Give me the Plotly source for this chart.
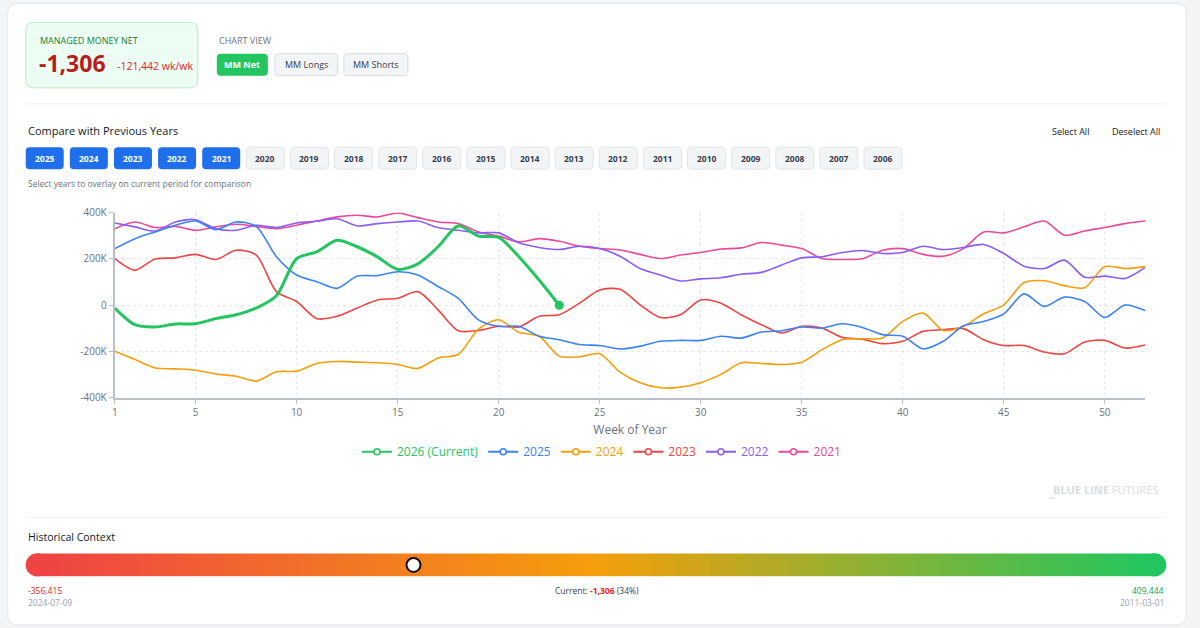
import plotly.graph_objects as go

W, H = 1200, 628
FONT = "Open Sans"

# ---- data (values in thousands of contracts) ----
weeks = list(range(1, 53))
current_weeks = list(range(1, 24))

net_2026 = [-13, -85, -95, -82, -81, -59, -42, -13, 40, 201, 230, 280, 252, 208, 154, 178,
            252, 342, 298, 292, 209, 108, -1.306]
net_2025 = [244, 287, 316, 345, 363, 326, 359, 340, 209, 130, 101, 72, 125, 127, 144, 130,
            80, 29, -64, -92, -92, -135, -150, -171, -175, -190, -178, -157, -153, -153, -135,
            -143, -117, -111, -95, -100, -81, -97, -128, -135, -190, -157, -90, -71, -38, 48,
            -6, 34, 15, -54, 0, -24]
net_2024 = [-200, -236, -272, -276, -282, -298, -308, -329, -289, -286, -253, -244, -247, -250,
            -257, -274, -229, -214, -104, -64, -118, -135, -221, -224, -211, -290, -336, -358,
            -355, -336, -300, -250, -253, -257, -247, -193, -150, -146, -143, -71, -35, -110,
            -92, -38, 1, 97, 105, 84, 75, 166, 158, 166]
net_2023 = [201, 151, 199, 204, 219, 197, 237, 216, 58, 15, -59, -49, -13, 22, 29, 58, -21,
            -111, -110, -92, -95, -49, -42, 8, 65, 68, 1, -54, -42, 22, 8, -42, -85, -121, -92,
            -100, -140, -148, -167, -157, -114, -107, -102, -150, -175, -175, -203, -211, -160,
            -153, -186, -173]
net_2022 = [355, 338, 320, 359, 369, 330, 323, 345, 335, 355, 362, 373, 342, 352, 359, 363,
            335, 323, 312, 312, 269, 249, 240, 254, 244, 211, 158, 130, 104, 113, 118, 133, 141,
            173, 204, 209, 227, 236, 223, 227, 254, 240, 249, 262, 223, 168, 158, 194, 120, 125,
            115, 163]
net_2021 = [330, 359, 335, 340, 323, 338, 349, 340, 330, 345, 363, 381, 388, 381, 398, 378,
            359, 352, 316, 298, 273, 287, 276, 254, 244, 238, 219, 201, 216, 227, 242, 247, 270,
            259, 244, 201, 197, 200, 237, 244, 219, 211, 244, 316, 312, 338, 363, 302, 320, 335,
            352, 363]

series_names = ["2026 (Current)", "2025", "2024", "2023", "2022", "2021"]
series_colors = ["#22c55e", "#3b82f6", "#f59e0b", "#ef4444", "#8b5cf6", "#ec4899"]

y_ticks = [-400, -200, 0, 200, 400]
y_tick_text = ["-400K", "-200K", "0", "200K", "400K"]
x_ticks = [1, 5, 10, 15, 20, 25, 30, 35, 40, 45, 50]

compare_years = list(range(2025, 2005, -1))
selected_years = [2025, 2024, 2023, 2022, 2021]
view_buttons = ["MM Net", "MM Longs", "MM Shorts"]

mm_net = "-1,306"
mm_change = "-121,442 wk/wk"
hist_min, hist_min_date = "-356,415", "2024-07-09"
hist_max, hist_max_date = "409,444", "2011-03-01"
current_pct = 34

# the snapshot of the window shows the page slightly inset (about 3px left, 9px top,
# ~2.5% shorter); pixel positions measured on the reference are mapped through this
SHIFT_X, SCALE_X = 3.3, 0.997
SHIFT_Y, SCALE_Y = 8.6, 0.974


def px(x):
    return (x - SHIFT_X) / SCALE_X / W


def py(y):
    return 1 - (y - SHIFT_Y) / SCALE_Y / H


def box(x0, y0, x1, y1, r, fill, line=None):
    """Rounded rectangle given in pixel coords, returned as a paper-ref path shape."""
    path = (f"M{px(x0 + r)},{py(y0)} L{px(x1 - r)},{py(y0)} Q{px(x1)},{py(y0)} {px(x1)},{py(y0 + r)} "
            f"L{px(x1)},{py(y1 - r)} Q{px(x1)},{py(y1)} {px(x1 - r)},{py(y1)} "
            f"L{px(x0 + r)},{py(y1)} Q{px(x0)},{py(y1)} {px(x0)},{py(y1 - r)} "
            f"L{px(x0)},{py(y0 + r)} Q{px(x0)},{py(y0)} {px(x0 + r)},{py(y0)} Z")
    return dict(type="path", xref="paper", yref="paper", path=path, fillcolor=fill,
                line=dict(color=line or fill, width=1 if line else 0), layer="below")


def label(x, y, text, size=10, color="#111827", anchor="left", **kw):
    return dict(x=px(x), y=py(y), xref="paper", yref="paper", text=text, showarrow=False,
                xanchor=anchor, yanchor="middle", font=dict(family=FONT, size=size, color=color), **kw)


fig = go.Figure()

# legend entries (drawn lines carry no legend)
for name, color in zip(series_names, series_colors):
    fig.add_trace(go.Scatter(x=[None], y=[None], mode="lines+markers",
                             name=f"<span style='color:{color}'>{name}</span>",
                             line=dict(color=color, width=2),
                             marker=dict(symbol="circle", size=6, color="white",
                                         line=dict(color=color, width=1.5))))

history = [net_2021, net_2022, net_2023, net_2024, net_2025]
hist_colors = series_colors[1:][::-1]
for values, color in zip(history, hist_colors):
    fig.add_trace(go.Scatter(x=weeks, y=values, mode="lines", showlegend=False,
                             line=dict(color=color, width=1.6, shape="spline", smoothing=0.8),
                             hoverinfo="skip"))

fig.add_trace(go.Scatter(x=current_weeks, y=net_2026, mode="lines", showlegend=False,
                         line=dict(color=series_colors[0], width=3, shape="spline", smoothing=0.8)))
fig.add_trace(go.Scatter(x=current_weeks[-1:], y=net_2026[-1:], mode="markers", showlegend=False,
                         marker=dict(color=series_colors[0], size=9)))

# historical context gradient bar
stops = [i + 1.5 for i in range(98)]
fig.add_trace(go.Heatmap(x=stops, y=[0], z=[stops], xaxis="x2", yaxis="y2", showscale=False,
                         colorscale=[[0, "#ef4444"], [0.5, "#f59e0b"], [1, "#22c55e"]],
                         hoverinfo="skip"))
fig.add_trace(go.Scatter(x=[current_pct], y=[0], xaxis="x2", yaxis="y2", mode="markers",
                         showlegend=False, hoverinfo="skip",
                         marker=dict(size=14, color="white", line=dict(color="#111111", width=2))))

shapes = [
    box(8, 5, 1186, 623, 10, "white", "#e5e7eb"),
    box(26, 24, 198, 89, 8, "#ecfdf3", "#b7ebc8"),
    dict(type="line", xref="paper", yref="paper", x0=px(26), x1=px(1166), y0=py(105), y1=py(105),
         line=dict(color="#eceef1", width=1)),
    dict(type="line", xref="paper", yref="paper", x0=px(26), x1=px(1166), y0=py(516), y1=py(516),
         line=dict(color="#eceef1", width=1)),
    dict(type="circle", xref="paper", yref="paper", x0=px(26), x1=px(49), y0=py(575), y1=py(552),
         fillcolor="#ef4444", line=dict(width=0)),
    dict(type="circle", xref="paper", yref="paper", x0=px(1143), x1=px(1166), y0=py(575), y1=py(552),
         fillcolor="#22c55e", line=dict(width=0)),
    dict(type="line", xref="paper", yref="paper", x0=px(1049), x1=px(1055), y0=py(497), y1=py(497),
         line=dict(color="#d1d5db", width=1)),
]

annotations = [
    label(38, 42, "MANAGED MONEY NET", 9, "#15803d"),
    label(37, 64, f"<b>{mm_net}</b>", 23, "#b91c1c"),
    label(115, 67, mm_change, 10.5, "#dc2626"),
    label(217, 42, "CHART VIEW", 9, "#6b7280"),
    label(26, 131, "Compare with Previous Years", 11, "#111827"),
    label(1070, 132, "Select All", 9, "#111827", anchor="center"),
    label(1136, 132, "Deselect All", 9, "#111827", anchor="center"),
    label(26, 184, "Select years to overlay on current period for comparison", 8.5, "#6b7280"),
    label(1105, 488, "<b>BLUE LINE</b> FUTURES", 11, "#d8dbe0", anchor="center"),
    label(26, 536, "Historical Context", 10.5, "#111827"),
    label(26, 589, hist_min, 8.5, "#dc2626"),
    label(26, 601, hist_min_date, 8.5, "#9ca3af"),
    label(597, 589, f"Current: <b><span style='color:#dc2626'>{mm_net}</span></b> ({current_pct}%)",
          8.5, "#374151", anchor="center"),
    label(1166, 589, hist_max, 8.5, "#16a34a", anchor="right"),
    label(1166, 601, hist_max_date, 8.5, "#9ca3af", anchor="right"),
]

# chart view buttons
view_x = [(217, 268), (275, 338), (344, 408)]
for i, (name, (x0, x1)) in enumerate(zip(view_buttons, view_x)):
    active = i == 0
    shapes.append(box(x0, 55, x1, 77, 4, "#22c55e" if active else "#f3f4f6",
                      None if active else "#d9dce1"))
    annotations.append(label((x0 + x1) / 2, 66, f"<b>{name}</b>" if active else name, 9,
                             "white" if active else "#374151", anchor="center"))

# year selector buttons
for i, year in enumerate(compare_years):
    x0 = 26 + i * 44.1
    on = year in selected_years
    shapes.append(box(x0, 148, x0 + 38, 170, 4, "#1f6feb" if on else "#f3f4f6",
                      None if on else "#e2e5e9"))
    annotations.append(label(x0 + 19, 159, f"<b>{year}</b>", 8.5,
                             "white" if on else "#374151", anchor="center"))

fig.update_layout(
    autosize=True,
    margin=dict(l=0, r=0, t=0, b=0),
    paper_bgcolor="#f3f4f6",
    plot_bgcolor="rgba(0,0,0,0)",
    font=dict(family=FONT, color="#6b7280"),
    shapes=shapes,
    annotations=annotations,
    legend=dict(orientation="h", x=0.5, xanchor="center", y=py(451), yanchor="middle",
                font=dict(family=FONT, size=12), itemwidth=30, bgcolor="rgba(0,0,0,0)"),
    xaxis=dict(domain=[px(115), px(1145)], range=[1, 52], tickvals=x_ticks,
               showgrid=True, gridcolor="#e5e7eb", griddash="dot", zeroline=False,
               showline=True, linecolor="#b9bfc9", linewidth=2, ticks="outside", ticklen=4,
               tickcolor="#b9bfc9", tickfont=dict(size=10, color="#6b7280"),
               title=dict(text="Week of Year", standoff=8, font=dict(size=12, color="#6b7280"))),
    yaxis=dict(domain=[py(397), py(213)], range=[-400, 400], tickvals=y_ticks,
               ticktext=y_tick_text, showgrid=True, gridcolor="#e5e7eb", griddash="dot",
               zeroline=False, showline=True, linecolor="#b9bfc9", linewidth=2,
               ticks="outside", ticklen=4, tickcolor="#b9bfc9",
               tickfont=dict(size=10, color="#6b7280")),
    xaxis2=dict(domain=[px(26), px(1166)], range=[0, 100], visible=False, fixedrange=True),
    yaxis2=dict(domain=[py(575), py(552)], range=[-0.5, 0.5], visible=False, fixedrange=True),
)

# fill the browser window exactly: no page margin, figure sized to the viewport
fit_page = ("document.documentElement.style.margin='0';document.body.style.margin='0';"
            "document.body.style.overflow='hidden';"
            "var gd=document.getElementById('{plot_id}');gd.style.position='fixed';"
            "gd.style.left='0';gd.style.top='0';Plotly.Plots.resize(gd);")
fig.write_html("out.html", config={"displayModeBar": False},
               default_width="100vw", default_height="100vh", post_script=fit_page)
